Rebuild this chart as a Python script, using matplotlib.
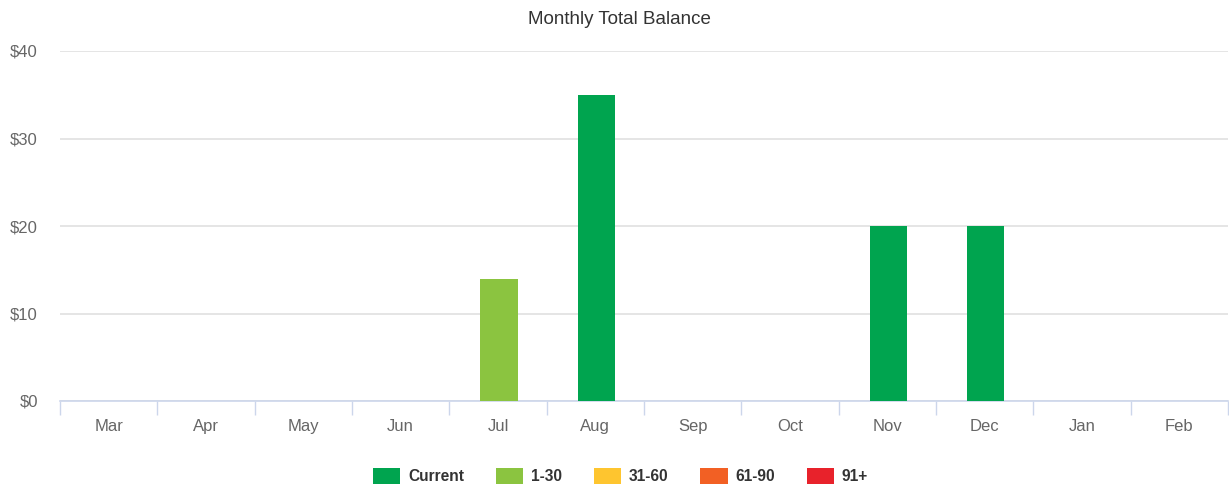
import matplotlib.pyplot as plt
from matplotlib.patches import Patch
import numpy as np

months = ['Mar', 'Apr', 'May', 'Jun', 'Jul', 'Aug', 'Sep', 'Oct', 'Nov', 'Dec', 'Jan', 'Feb']
current = [0, 0, 0, 0, 0, 35, 0, 0, 20, 20, 0, 0]
d1_30 = [0, 0, 0, 0, 14, 0, 0, 0, 0, 0, 0, 0]
d31_60 = [0] * 12
d61_90 = [0] * 12
d91 = [0] * 12

series = [('Current', current, '#00a44f'),
          ('1-30', d1_30, '#8bc440'),
          ('31-60', d31_60, '#fec52f'),
          ('61-90', d61_90, '#f26024'),
          ('91+', d91, '#e8222b')]

plt.rcParams['font.family'] = ['Liberation Sans', 'DejaVu Sans']

fig = plt.figure(figsize=(12.29, 4.87), dpi=100)
ax = fig.add_axes([60 / 1229, 1 - 401 / 487, 1168 / 1229, 350 / 487])

x = np.arange(len(months))
bottom = np.zeros(len(months))
for name, vals, col in series:
    vals = np.array(vals, dtype=float)
    ax.bar(x + 0.01, vals, width=0.385, bottom=bottom, color=col, zorder=3)
    bottom += vals

ax.set_xlim(-0.5, len(months) - 0.5)
ax.set_ylim(0, 40)
ax.set_yticks([0, 10, 20, 30, 40])
ax.set_yticklabels(['$0', '$10', '$20', '$30', '$40'])
ax.yaxis.grid(True, color='#e0e0e0', linewidth=1.2, zorder=0)
ax.tick_params(axis='y', length=0, pad=16, labelsize=12, labelcolor='#666666')

ax.set_xticks(x)
ax.set_xticklabels(months)
ax.set_xticks(np.arange(-0.5, len(months)), minor=True)
ax.tick_params(axis='x', which='major', length=0, pad=13, labelsize=12, labelcolor='#666666')
ax.tick_params(axis='x', which='minor', length=10, width=1, color='#ccd6eb')

for s in ['top', 'right', 'left']:
    ax.spines[s].set_visible(False)
ax.spines['bottom'].set_color('#ccd6eb')
ax.spines['bottom'].set_linewidth(1.2)

fig.text(619 / 1229, 1 - 20 / 487, 'Monthly Total Balance', ha='center', va='center',
         fontsize=13.5, color='#333333')

handles = [Patch(facecolor=c, edgecolor='none') for _, _, c in series]
labels = [n for n, _, _ in series]
fig.legend(handles, labels, loc='center', bbox_to_anchor=(0.505, 1 - 476 / 487), ncol=5,
           frameon=False, prop={'weight': 'bold', 'size': 11.2}, labelcolor='#333333',
           handlelength=1.75, handleheight=1.25, handletextpad=0.5, columnspacing=2.05)

fig.savefig('out.png', dpi=100)
